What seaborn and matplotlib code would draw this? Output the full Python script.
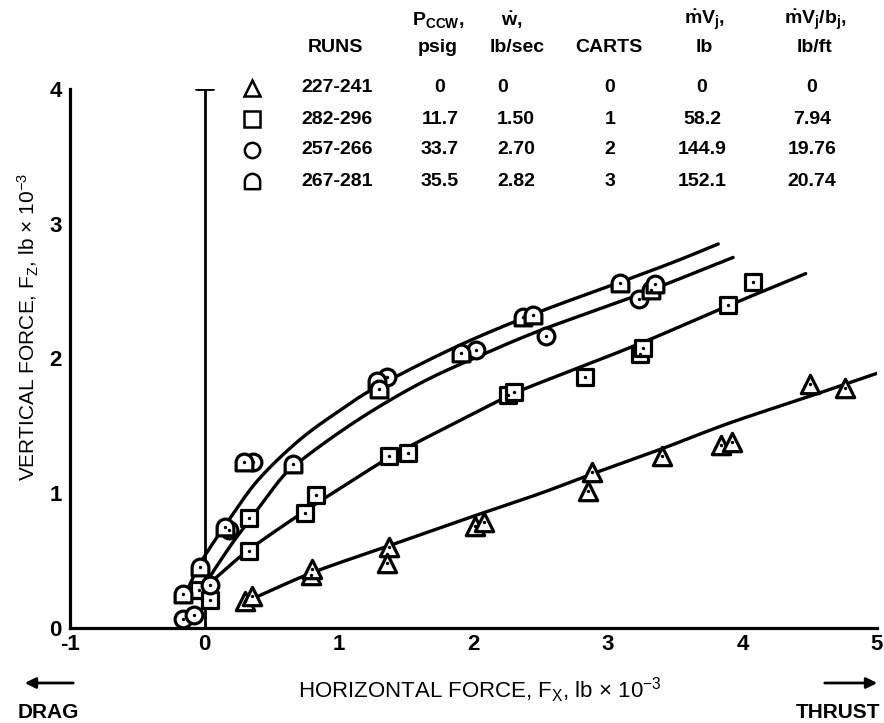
import numpy as np
import pandas as pd
import matplotlib
matplotlib.use("Agg")
import matplotlib.pyplot as plt
from matplotlib.path import Path
from matplotlib.lines import Line2D
from matplotlib.patches import FancyArrowPatch
import seaborn as sns

# ---- measured force data (lb x 10^-3) ----
tri_x = [0.30, 0.35, 0.79, 0.80, 1.37, 1.36, 2.01, 2.08, 2.88, 2.85, 3.40, 3.84, 3.92, 4.50, 4.76]
tri_y = [0.20, 0.24, 0.39, 0.44, 0.60, 0.48, 0.76, 0.79, 1.16, 1.02, 1.28, 1.36, 1.38, 1.81, 1.78]

sq_x = [-0.04, 0.04, 0.33, 0.33, 0.75, 0.83, 1.37, 1.51, 2.26, 2.30, 2.83, 3.24, 3.26, 3.89, 4.08]
sq_y = [0.28, 0.21, 0.57, 0.82, 0.85, 0.99, 1.28, 1.30, 1.73, 1.75, 1.86, 2.03, 2.08, 2.40, 2.57]

circ_x = [-0.16, -0.08, 0.04, 0.18, 0.36, 1.36, 2.02, 2.54, 3.23]
circ_y = [0.07, 0.10, 0.32, 0.73, 1.23, 1.86, 2.06, 2.17, 2.44]

arch_x = [-0.16, -0.03, 0.15, 0.29, 0.66, 1.28, 1.30, 1.91, 2.37, 2.44, 3.09, 3.32, 3.35]
arch_y = [0.25, 0.45, 0.75, 1.23, 1.22, 1.83, 1.77, 2.04, 2.31, 2.32, 2.56, 2.51, 2.55]

# ---- faired curves ----
tri_fair_x = [0.34, 0.80, 1.37, 2.00, 2.50, 2.90, 3.40, 3.90, 4.50, 5.00]
tri_fair_y = [0.21, 0.41, 0.61, 0.83, 1.00, 1.15, 1.33, 1.52, 1.72, 1.89]

sq_fair_x = [0.07, 0.33, 0.75, 1.00, 1.40, 1.90, 2.30, 2.65, 3.26, 3.89, 4.47]
sq_fair_y = [0.36, 0.58, 0.87, 1.03, 1.28, 1.54, 1.74, 1.88, 2.12, 2.39, 2.63]

upper_fair_x = [-0.12, -0.02, 0.18, 0.40, 0.70, 1.00, 1.30, 1.90, 2.50, 3.10, 3.50, 3.82]
upper_fair_y = [0.30, 0.50, 0.80, 1.10, 1.39, 1.61, 1.80, 2.10, 2.35, 2.57, 2.72, 2.85]

lower_fair_x = [0.00, 0.04, 0.20, 0.35, 0.57, 0.70, 1.00, 1.31, 1.65, 2.00, 2.50, 3.22, 3.93]
lower_fair_y = [0.30, 0.38, 0.62, 0.82, 1.11, 1.23, 1.45, 1.65, 1.84, 2.00, 2.21, 2.47, 2.75]

# ---- run table ----
runs = ["227-241", "282-296", "257-266", "267-281"]
p_ccw = ["0", "11.7", "33.7", "35.5"]
w_dot = ["0", "1.50", "2.70", "2.82"]
carts = ["0", "1", "2", "3"]
mvj = ["0", "58.2", "144.9", "152.1"]
mvj_b = ["0", "7.94", "19.76", "20.74"]

x_ticks = [-1, 0, 1, 2, 3, 4, 5]
y_ticks = [0, 1, 2, 3, 4]

sns.set_theme(style="white")
plt.rcParams["font.family"] = ["Liberation Sans", "DejaVu Sans"]
plt.rcParams["text.color"] = "black"
plt.rcParams["axes.labelcolor"] = "black"
plt.rcParams["mathtext.fontset"] = "custom"
plt.rcParams["mathtext.rm"] = "Liberation Sans"
plt.rcParams["mathtext.it"] = "Liberation Sans"
plt.rcParams["mathtext.bf"] = "Liberation Sans:bold"


def faired(xs, ys, n=24):
    """Catmull-Rom fairing through the given curve stations."""
    p = np.column_stack([xs, ys]).astype(float)
    P = np.vstack([2 * p[0] - p[1], p, 2 * p[-1] - p[-2]])
    out = []
    t = np.linspace(0, 1, n, endpoint=False)[:, None]
    for i in range(1, len(P) - 2):
        p0, p1, p2, p3 = P[i - 1], P[i], P[i + 1], P[i + 2]
        seg = 0.5 * ((2 * p1) + (-p0 + p2) * t + (2 * p0 - 5 * p1 + 4 * p2 - p3) * t ** 2
                     + (-p0 + 3 * p1 - 3 * p2 + p3) * t ** 3)
        out.append(seg)
    out.append(p[-1:])
    c = np.vstack(out)
    return pd.DataFrame({"x": c[:, 0], "y": c[:, 1]})


# arch-shaped marker: flat bottom, rounded top
arc = Path.arc(0, 180)
arch_verts = np.vstack([[(-1, -1), (1, -1)], arc.vertices, [(-1, -1)]])
arch_codes = [Path.MOVETO, Path.LINETO] + [Path.LINETO] + list(arc.codes[1:]) + [Path.CLOSEPOLY]
arch_marker = Path(arch_verts, arch_codes)

W, H = 884, 723
fig = plt.figure(figsize=(W / 100, H / 100), dpi=100)
ax = fig.add_axes([70 / W, 1 - 628 / H, 807 / W, 539 / H])

LW = 2.4
for fx, fy in [(tri_fair_x, tri_fair_y), (sq_fair_x, sq_fair_y),
               (upper_fair_x, upper_fair_y), (lower_fair_x, lower_fair_y)]:
    sns.lineplot(data=faired(fx, fy), x="x", y="y", sort=False, estimator=None,
                 color="black", lw=LW, ax=ax, zorder=2)

series = [
    (tri_x, tri_y, "^", 175),
    (sq_x, sq_y, "s", 125),
    (circ_x, circ_y, "o", 145),
    (arch_x, arch_y, arch_marker, 145),
]
for xs, ys, mk, size in series:
    sns.scatterplot(x=xs, y=ys, marker=mk, s=size, color="white", edgecolor="black",
                    linewidth=2.3, ax=ax, zorder=3)
    sns.scatterplot(x=xs, y=ys, marker="o", s=6, color="black", linewidth=0,
                    ax=ax, zorder=4)

# zero-drag reference line with its cap
ax.plot([0, 0], [0, 4], color="black", lw=2.0, zorder=1)
ax.plot([-0.06, 0.06], [4, 4], color="black", lw=2.0, zorder=1)

ax.set_xlim(-1, 5)
ax.set_ylim(0, 4)
ax.set_xticks(x_ticks)
ax.set_xticklabels([str(v) for v in x_ticks])
ax.set_yticks(y_ticks)
ax.set_yticklabels([str(v) for v in y_ticks])
for lab in ax.get_xticklabels() + ax.get_yticklabels():
    lab.set_fontweight("bold")
    lab.set_fontsize(16)
ax.tick_params(direction="in", length=7, width=2, colors="black", pad=6)
ax.tick_params(axis="x", pad=4)
for side in ["top", "right"]:
    ax.spines[side].set_visible(False)
for side in ["left", "bottom"]:
    ax.spines[side].set_linewidth(2.3)
    ax.spines[side].set_color("black")
ax.set_facecolor("white")

ax.set_xlabel(r"HORIZONTAL FORCE, F$_\mathrm{X}$, lb $\times$ 10$^{-3}$", fontsize=16)
ax.xaxis.label.set_va("center")
ax.xaxis.set_label_coords((480 - 70) / 807, (628 - 690) / 539)
ax.set_ylabel(r"VERTICAL FORCE, F$_\mathrm{Z}$, lb $\times$ 10$^{-3}$", fontsize=15)
ax.yaxis.label.set_va("center")
ax.yaxis.set_label_coords((28 - 70) / 807, (628 - 327) / 539)


def ftext(px, py, s, **kw):
    fig.text(px / W, 1 - py / H, s, fontsize=kw.pop("fontsize", 14), fontweight="bold",
             va="center", **kw)


ftext(48, 712, "DRAG", ha="center", fontsize=15)
ftext(880, 712, "THRUST", ha="right", fontsize=15)
for start, end in [((76, 683), (22, 683)), ((822, 683), (880, 683))]:
    fig.add_artist(FancyArrowPatch((start[0] / W, 1 - start[1] / H), (end[0] / W, 1 - end[1] / H),
                                   transform=fig.transFigure, arrowstyle="-|>",
                                   mutation_scale=16, lw=2, color="black"))

# run table
ftext(335, 48, "RUNS", ha="center")
ftext(438, 20, r"$\mathbf{P_{CCW}}$,", ha="center")
ftext(438, 48, "psig", ha="center")
ftext(512, 20, r"$\mathbf{\dot{w}}$,", ha="center")
ftext(517, 48, "lb/sec", ha="center")
ftext(609, 48, "CARTS", ha="center")
ftext(704, 20, r"$\mathbf{\dot{m}V_j}$,", ha="center")
ftext(704, 48, "lb", ha="center")
ftext(815, 20, r"$\mathbf{\dot{m}V_j/b_j}$,", ha="center")
ftext(815, 48, "lb/ft", ha="center")

row_y = [88, 119, 150, 181]
legend_marks = ["^", "s", "o", arch_marker]
for i, yy in enumerate(row_y):
    fig.add_artist(Line2D([252 / W], [1 - yy / H], marker=legend_marks[i], markersize=11,
                          markerfacecolor="white", markeredgecolor="black",
                          markeredgewidth=1.8, linestyle="none", transform=fig.transFigure))
    ftext(301, yy, runs[i], ha="left")
    ftext(440, yy, p_ccw[i], ha="center")
    ftext(497, yy, w_dot[i], ha="left")
    ftext(610, yy, carts[i], ha="center")
    ftext(702, yy, mvj[i], ha="center")
    ftext(812, yy, mvj_b[i], ha="center")

fig.savefig("out.png", dpi=100, facecolor="white")
